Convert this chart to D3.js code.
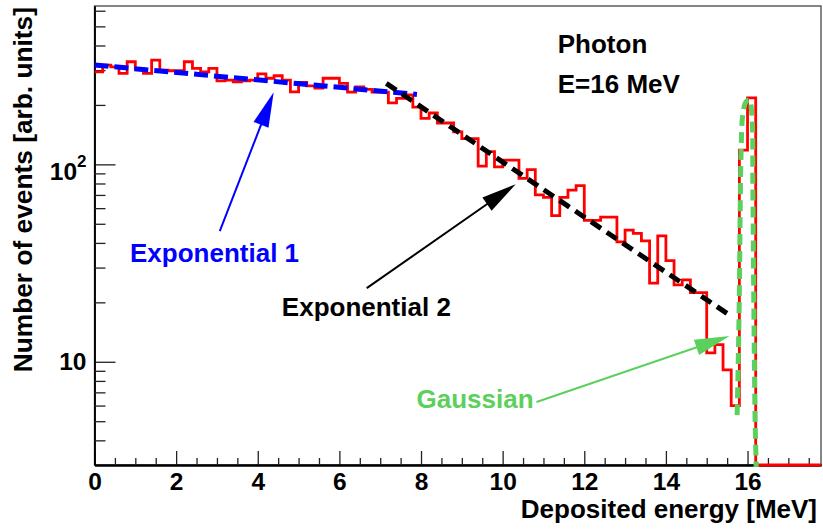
<!DOCTYPE html>
<html><head><meta charset="utf-8">
<script src="https://cdn.jsdelivr.net/npm/d3@7"></script>
<style>
body{margin:0;background:#fff}
svg{display:block}
text{font-family:"Liberation Sans",Arial,Helvetica,sans-serif;font-weight:bold}
</style>
</head><body>
<svg id="c" width="823" height="530"></svg>
<script>
// ---------------- data ----------------
const binWidth = 0.2;            // MeV per bin, histogram starts at 0
const counts = [
  294,318,312,289,331,306,289,337,300,298,
  298,331,306,294,306,265,267,262,265,267,
  287,273,281,267,233,260,250,243,273,273,
  257,232,247,240,232,232,205,216,225,195,
  171,182,162,162,146,135,135,98,116,97,
  105,105,85,94,70,68,55,68,74,78,
  52,52,54,54,40.5,46.4,44.7,41,25,43.4,
  32.5,24.5,26,22.4,22.4,11.1,12.2,9.1,6.0,118,
  217,0,0,0,0,0,0,0,0
];
const xDomain = [0, 17.8];
const yDomain = [3, 634];
const xMajor = [0,2,4,6,8,10,12,14,16];
const xMinor = [0.5,1,1.5,2.5,3,3.5,4.5,5,5.5,6.5,7,7.5,8.5,9,9.5,10.5,11,11.5,12.5,13,13.5,14.5,15,15.5,16.5,17,17.5];
const yMajor = [10,100];
const yMinor = [4,5,6,7,8,9,20,30,40,50,60,70,80,90,200,300,400,500,600];
const exp1Pts = [[0,318.6],[7.9,226]];
const exp2Pts = [[7.15,257],[15.6,17.0]];
const gausPts = [[15.745,5.37],[15.777,11.2],[15.802,24.5],[15.818,53.5],[15.842,115],[15.883,178],[15.96,207],[16.046,212],[16.11,172],[16.13,78.5],[16.15,24.5],[16.185,5.2],[16.21,3.0],[16.23,1.5]];
// annotations
const labelText = ["Photon","E=16 MeV","Exponential 1","Exponential 2","Gaussian"];
const labelPos = [[11.35,366],[11.35,230],[0.87,32.0],[4.59,17.0],[7.89,5.83]];
const labelColor = ["#000","#000","#0000ff","#000","#5cd05c"];
const arrowFrom = [[3.07,45.9],[6.67,23.6],[10.83,6.25]];
const arrowTo = [[4.39,232],[10.32,79.4],[15.56,13.5]];
const arrowColor = ["#0000ff","#000","#5cd05c"];

// ---------------- layout ----------------
const L = 94.5, R = 821, T = 6, B = 465;
const svg = d3.select("#c");
const x = d3.scaleLinear().domain(xDomain).range([L, R]);
const y = d3.scaleLog().domain(yDomain).range([B, T]);

svg.append("defs").append("clipPath").attr("id","clip")
  .append("rect").attr("x",L).attr("y",T).attr("width",R-L).attr("height",B-T+2);

// frame
svg.append("rect").attr("x",L).attr("y",T).attr("width",R-L).attr("height",B-T)
  .attr("fill","none").attr("stroke","#444").attr("stroke-width",1.3);

// x axis
const gx = svg.append("g").attr("transform",`translate(0,${B})`);
gx.call(d3.axisBottom(x).tickValues(xMajor).tickSizeInner(-14).tickSizeOuter(0).tickPadding(8).tickFormat(d3.format("d")));
gx.append("g").call(d3.axisBottom(x).tickValues(xMinor).tickSizeInner(-7).tickSizeOuter(0).tickFormat(""));
gx.selectAll(".domain").attr("stroke","#000").attr("stroke-width",2);
gx.selectAll(".tick line").attr("stroke","#222").attr("stroke-width",1.3);
gx.selectAll("text").attr("font-size",24.5).attr("fill","#000").style("font-family",'"Liberation Sans",Arial,sans-serif').style("font-weight","bold");

// y axis
const gy = svg.append("g").attr("transform",`translate(${L},0)`);
gy.call(d3.axisLeft(y).tickValues(yMajor).tickSizeInner(-21).tickSizeOuter(0).tickPadding(8).tickFormat(()=> "10"));
gy.append("g").call(d3.axisLeft(y).tickValues(yMinor).tickSizeInner(-11).tickSizeOuter(0).tickFormat(""));
gy.selectAll(".domain").attr("stroke","#000").attr("stroke-width",1.5);
gy.selectAll(".tick line").attr("stroke","#222").attr("stroke-width",1.3);
gy.selectAll("text").attr("font-size",24.5).attr("fill","#000").style("font-family",'"Liberation Sans",Arial,sans-serif').style("font-weight","bold");
gy.selectAll(".tick").filter(d => d===100).select("text")
  .attr("dy","0.62em")
  .append("tspan").attr("font-size",17).attr("dy","-0.75em").text("2");

// axis titles
svg.append("text").attr("x",817).attr("y",518).attr("text-anchor","end")
  .attr("font-size",26).text("Deposited energy [MeV]");
svg.append("text").attr("transform","translate(32,7) rotate(-90)").attr("text-anchor","end")
  .attr("font-size",26.3).text("Number of events [arb. units]");

// plot group
const gp = svg.append("g").attr("clip-path","url(#clip)");

// histogram (zero bins drawn at the bottom of the frame)
const histPts = counts.flatMap((c,i)=>[[i*binWidth, Math.max(c,yDomain[0])],[(i+1)*binWidth, Math.max(c,yDomain[0])]]);
const line = d3.line().x(d=>x(d[0])).y(d=>y(d[1]));
gp.append("path").attr("d",line(histPts)).attr("fill","none")
  .attr("stroke","#ff0000").attr("stroke-width",2.8).attr("stroke-linejoin","miter");

// fits
gp.append("path").attr("d",line(exp1Pts)).attr("fill","none").attr("stroke","#0000ff")
  .attr("stroke-width",5).attr("stroke-dasharray","14,6");
gp.append("path").attr("d",line(exp2Pts)).attr("fill","none").attr("stroke","#000")
  .attr("stroke-width",5).attr("stroke-dasharray","12,7");
const curve = d3.line().x(d=>x(d[0])).y(d=>y(Math.max(d[1],1))).curve(d3.curveCatmullRom);
gp.append("path").attr("d",curve(gausPts)).attr("fill","none").attr("stroke","#5cd05c")
  .attr("stroke-width",5).attr("stroke-dasharray","11,6");

// arrows
arrowFrom.forEach((f,i)=>{
  const t = arrowTo[i];
  const x0=x(f[0]), y0=y(f[1]), x1=x(t[0]), y1=y(t[1]);
  const dx=x1-x0, dy=y1-y0, len=Math.hypot(dx,dy), ux=dx/len, uy=dy/len;
  const hl=35, hw=8;
  const bx=x1-ux*hl, by=y1-uy*hl;
  svg.append("line").attr("x1",x0).attr("y1",y0).attr("x2",bx+ux*2).attr("y2",by+uy*2)
    .attr("stroke",arrowColor[i]).attr("stroke-width",2);
  svg.append("path").attr("d",`M${x1},${y1}L${bx-uy*hw},${by+ux*hw}L${bx+uy*hw},${by-ux*hw}Z`)
    .attr("fill",arrowColor[i]);
});

// labels
labelText.forEach((s,i)=>{
  svg.append("text").attr("x",x(labelPos[i][0])).attr("y",y(labelPos[i][1]))
    .attr("font-size",26).attr("fill",labelColor[i]).text(s);
});
</script>
</body></html>
